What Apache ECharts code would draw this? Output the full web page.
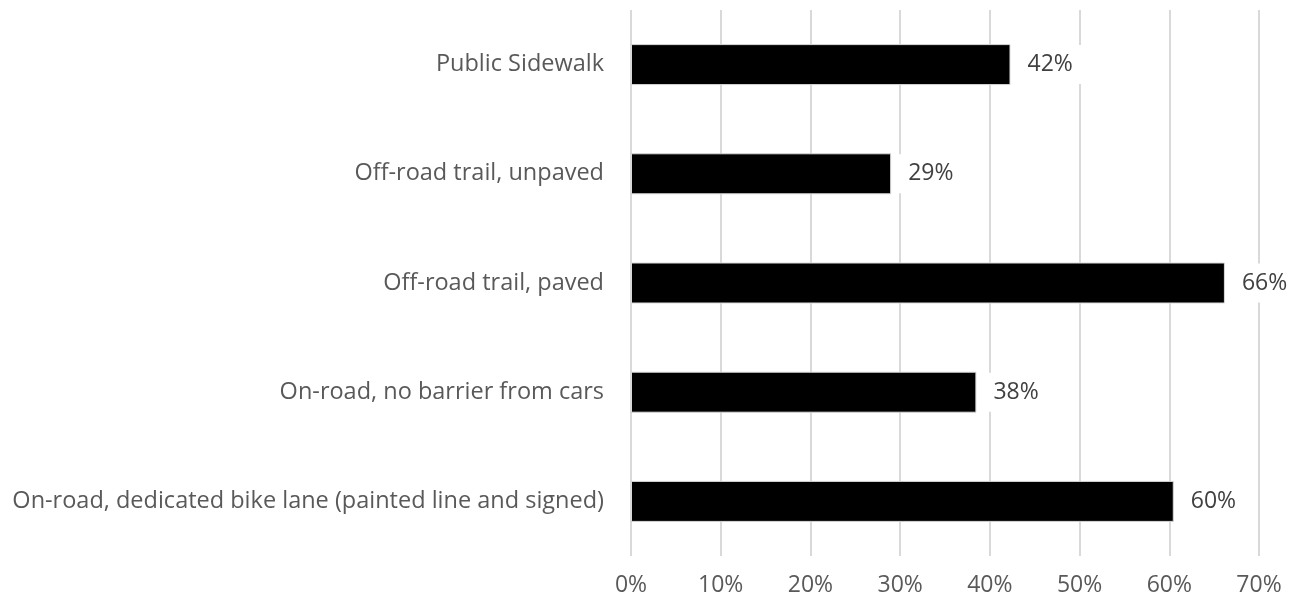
<!DOCTYPE html>
<html><head><meta charset="utf-8">
<script src="https://cdn.jsdelivr.net/npm/echarts@6/dist/echarts.min.js"></script>
<style>html,body{margin:0;padding:0;background:#fff}#c{width:1295px;height:600px}</style>
</head><body><div id="c"></div>
<script>
const categories = [
  "On-road, dedicated bike lane (painted line and signed)",
  "On-road, no barrier from cars",
  "Off-road trail, paved",
  "Off-road trail, unpaved",
  "Public Sidewalk"
];
const values = [60.5, 38.5, 66.2, 29.0, 42.3];
const valueLabels = ["60%", "38%", "66%", "29%", "42%"];
const xTicks = [0, 10, 20, 30, 40, 50, 60, 70];

const FONT = "Open Sans";
const chart = echarts.init(document.getElementById('c'), null, {renderer: 'canvas'});
chart.setOption({
  animation: false,
  grid: {left: 631, right: 36, top: 10, bottom: 44, containLabel: false},
  xAxis: {
    type: 'value', min: 0, max: 70, interval: 10,
    axisLine: {show: false}, axisTick: {show: false},
    splitLine: {show: true, lineStyle: {color: '#d9d9d9', width: 2}},
    axisLabel: {color: '#595959', fontSize: 23, fontFamily: FONT, margin: 18,
      formatter: v => xTicks.includes(v) ? v + '%' : ''}
  },
  yAxis: {
    type: 'category', data: categories,
    axisLine: {show: false}, axisTick: {show: false},
    axisLabel: {color: '#595959', fontSize: 23.5, fontFamily: FONT, margin: 27}
  },
  series: [{
    type: 'bar', data: values, barWidth: 41,
    itemStyle: {color: '#000000', borderColor: '#d9d9d9', borderWidth: 1},
    label: {show: true, position: 'right', distance: 5,
      color: '#404040', fontSize: 23, fontFamily: FONT,
      backgroundColor: '#ffffff', padding: [8, 12],
      formatter: p => valueLabels[p.dataIndex]}
  }]
});
</script></body></html>
